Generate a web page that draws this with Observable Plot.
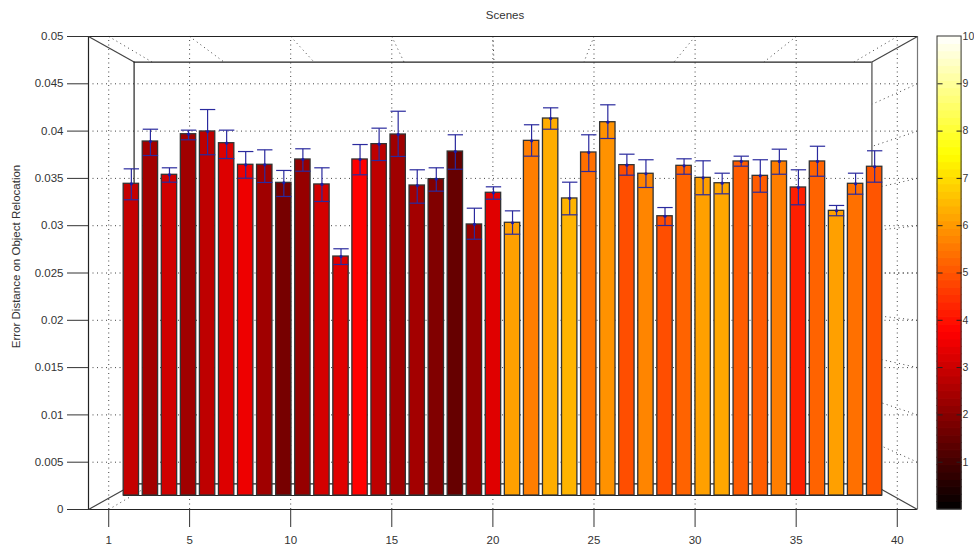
<!DOCTYPE html>
<html>
<head>
<meta charset="utf-8">
<script src="https://cdn.jsdelivr.net/npm/d3@7"></script>
<script src="https://cdn.jsdelivr.net/npm/@observablehq/plot@0.6"></script>
<style>
html,body{margin:0;padding:0;background:#fff}
svg{display:block}
</style>
</head>
<body>
<div id="chart"></div>
<script>
const means = [.03443,.0389,.03538,.03967,.03996,.03872,.03644,.03644,.03453,.037,.03436,.02674,.037,.03862,.03964,.03425,.03492,.03784,.03013,.03348,.03031,.03897,.04133,.03288,.03774,.04094,.0364,.03549,.031,.03633,.03506,.03449,.03679,.03527,.03679,.03404,.03679,.03157,.03443,.03623];
const uppers = [.03601,.0402,.03612,.0401,.04228,.0401,.03784,.03802,.03584,.03813,.03612,.02756,.03858,.04031,.0421,.03591,.03612,.03961,.03185,.03411,.03157,.04067,.04246,.0346,.03961,.04278,.03756,.03697,.03192,.03707,.03686,.03555,.03735,.03697,.03809,.03591,.0384,.03214,.03555,.03792];
const lowers = [.03274,.03742,.0346,.03908,.0375,.0371,.03502,.03457,.03309,.03576,.03256,.0259,.03538,.03689,.03732,.03238,.03365,.03597,.02857,.0328,.0291,.03735,.0402,.03115,.03573,.03922,.03534,.03404,.03002,.03544,.03327,.03337,.03629,.03354,.03544,.03221,.03523,.03105,.03333,.0346];
const heat = [2.9,2.4,3.05,2.35,2.8,3.25,3.5,2.35,1.75,2.2,3.1,3.3,3.75,2.8,2.35,2.4,1.9,1.5,2.2,3.3,6.1,5.6,6.3,6.4,5.4,5.9,4.9,5.7,4.9,5.2,6.1,6.2,5.1,5.1,5.6,4.2,5.2,6.1,5.4,5.0];
const xTicks = [1,5,10,15,20,25,30,35,40];
const yTicks = [0,.005,.01,.015,.02,.025,.03,.035,.04,.045,.05];
const barTicks = [1,2,3,4,5,6,7,8,9,10];
const title = "Scenes";
const yLabel = "Error Distance on Object Relocation";

// 3-D view of the original: planes are scaled about the centre of the box
const cx = 20.5, cy = 0.025;
const backX = x => cx + (x - cx) * 0.89;
const backY = y => cy + (y - cy) * 0.892;
const frontX = s => cx + (s - cx) * 0.9426;
const base = 0.00148;
const halfBar = 0.38;

const bars = means.map((m, i) => ({s: i + 1, m, hi: uppers[i], lo: lowers[i], heat: heat[i]}));
const X = d => frontX(d.s);
const ink = "#222", blue = "#2a2a9e", dots = "#444";
const dotted = {stroke: dots, strokeWidth: 1, strokeDasharray: "1,3.5"};

const gridY = yTicks.slice(1, -1);
const gridX = xTicks;
const x0 = 0, x1 = 41, y0 = 0, y1 = 0.05;
const levels = d3.range(0, 64).map(i => i * 10 / 64);
const cbL = 41.99, cbR = 43.18, cbT = 0.25;

const plot = Plot.plot({
  width: 974, height: 546,
  marginLeft: 88, marginRight: 57, marginTop: 36, marginBottom: 37,
  style: {background: "#fff", fontFamily: "'Liberation Sans', Arial, sans-serif", fontSize: "11.5px", color: "#333"},
  x: {domain: [x0, x1]},
  y: {domain: [y0, y1]},
  color: {type: "linear", domain: [0, 3.75, 7.5, 10], range: ["#000", "#f00", "#ff0", "#fff"]},
  marks: [
    // dotted grid
    Plot.ruleY(gridY, {y: d => d, x1: x0, x2: x1, ...dotted}),
    Plot.ruleX(gridX, {x: d => d, y1: y0, y2: y1, ...dotted}),
    Plot.link(gridX, {x1: d => d, y1: y1, x2: backX, y2: backY(y1), ...dotted}),
    Plot.link(gridY, {x1: x1, y1: d => d, x2: backX(x1), y2: backY, ...dotted}),
    Plot.link([1], {x1: d => d, y1: y0, x2: backX, y2: backY(y0), ...dotted}),
    // box
    Plot.ruleX([x0], {y1: y0, y2: y1, stroke: ink, strokeWidth: 1.2}),
    Plot.ruleX([x1], {y1: y0, y2: y1, stroke: "#777", strokeWidth: 1.2}),
    Plot.ruleY([y1], {x1: x0, x2: x1, stroke: ink, strokeWidth: 1.2}),
    Plot.ruleY([y0], {x1: x0, x2: x1, stroke: ink, strokeWidth: 1.2}),
    Plot.ruleX([backX(x0)], {y1: backY(y0), y2: backY(y1), stroke: ink, strokeWidth: 1.2}),
    Plot.ruleX([backX(x1)], {y1: backY(y0), y2: backY(y1), stroke: "#777", strokeWidth: 1.6}),
    Plot.ruleY([backY(y1)], {x1: backX(x0), x2: backX(x1), stroke: ink, strokeWidth: 1.2}),
    Plot.ruleY([backY(y0)], {x1: backX(x0), x2: backX(x1), stroke: ink, strokeWidth: 1.2}),
    Plot.link([[x0, y1], [x1, y1], [x0, y0], [x1, y0]], {
      x1: d => d[0], y1: d => d[1], x2: d => backX(d[0]), y2: d => backY(d[1]), stroke: "#444", strokeWidth: 1.2
    }),
    // bars
    Plot.ruleY([base], {x1: frontX(1) - halfBar, x2: frontX(40) + halfBar, stroke: ink, strokeWidth: 1.2}),
    Plot.rect(bars, {
      x1: d => X(d) - halfBar, x2: d => X(d) + halfBar, y1: base, y2: "m",
      fill: "heat", stroke: "#333", strokeWidth: 1.3
    }),
    // error bars
    Plot.link(bars, {x1: X, x2: X, y1: "lo", y2: "hi", stroke: blue, strokeWidth: 1.2}),
    Plot.link(bars, {x1: d => X(d) - halfBar, x2: d => X(d) + halfBar, y1: "hi", y2: "hi", stroke: blue, strokeWidth: 1.2}),
    Plot.link(bars, {x1: d => X(d) - halfBar, x2: d => X(d) + halfBar, y1: "lo", y2: "lo", stroke: blue, strokeWidth: 1.2}),
    Plot.dot(bars, {x: X, y: "m", r: 1.6, fill: "#1a1aa8"}),
    // axes
    Plot.axisX({ticks: xTicks, tickSize: 18, tickPadding: 8, fontSize: 11.5, tickFormat: d => String(d), label: null, stroke: "#333", fill: "#333"}),
    Plot.axisY({ticks: yTicks, tickSize: 21, tickPadding: 4, fontSize: 11.5, tickFormat: d => String(d), label: null, stroke: "#333", fill: "#333"}),
    Plot.text([title], {frameAnchor: "top", dx: 2, dy: -21, lineAnchor: "middle", fill: "#333", fontSize: 11.5}),
    Plot.text([yLabel], {frameAnchor: "left", textAnchor: "middle", lineAnchor: "middle", dx: -72, dy: -16.5, rotate: -90, fill: "#333", fontSize: 11.5}),
    // colour bar
    Plot.rect(levels, {
      x1: cbL, x2: cbR,
      y1: d => d * 0.005, y2: d => (d + 10 / 64) * 0.005,
      fill: d => d + 5 / 64, stroke: d => d + 5 / 64, strokeWidth: 1
    }),
    Plot.rect([0], {x1: cbL, x2: cbR, y1: y0, y2: y1, fill: "none", stroke: "#333", strokeWidth: 1}),
    Plot.link(barTicks.slice(0, -1), {x1: cbL, x2: cbL + cbT, y1: d => d * 0.005, y2: d => d * 0.005, stroke: "#222"}),
    Plot.link(barTicks.slice(0, -1), {x1: cbR - cbT, x2: cbR, y1: d => d * 0.005, y2: d => d * 0.005, stroke: "#222"}),
    Plot.text(barTicks, {x: cbR, y: d => d * 0.005, text: d => String(d), textAnchor: "start", dx: 1, fill: "#333", fontSize: 10.5})
  ]
});
document.getElementById("chart").appendChild(plot);
</script>
</body>
</html>
